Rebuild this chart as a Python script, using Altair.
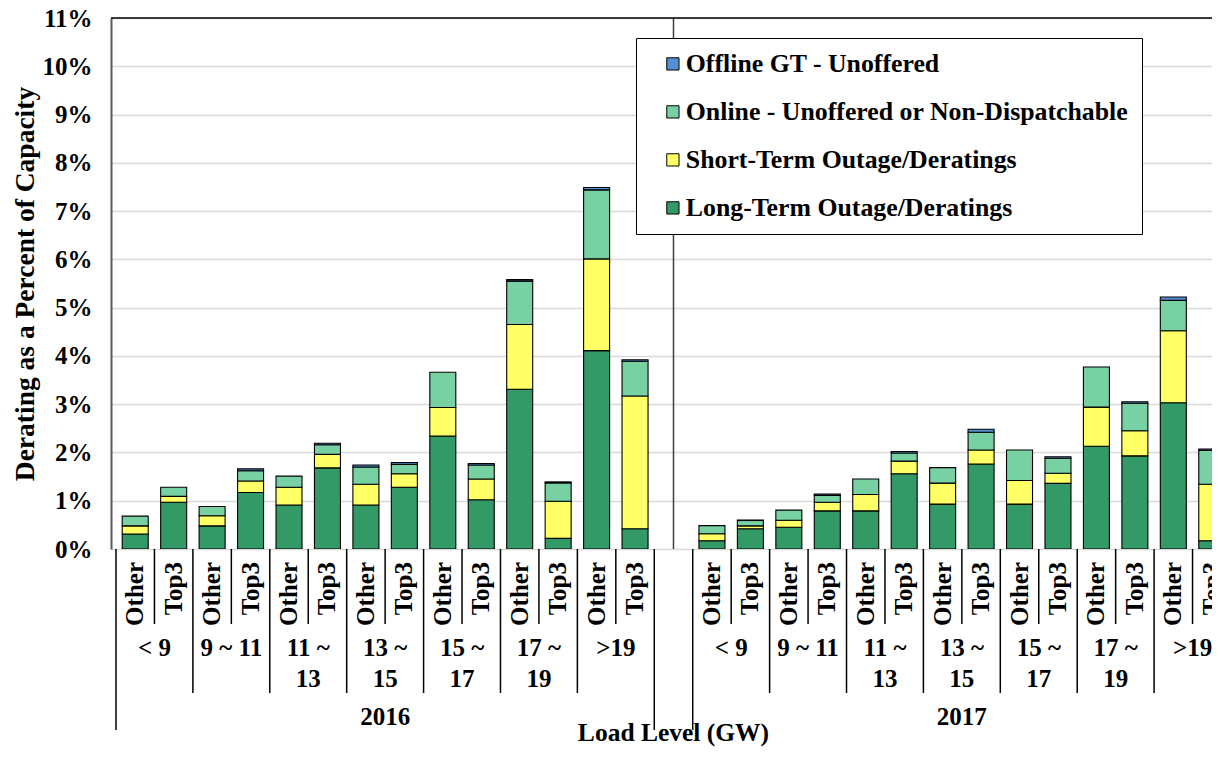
import altair as alt
import pandas as pd

# ---------------- data ----------------
years = ["2016", "2017"]
bins = ["< 9", "9 ~ 11", "11 ~\n13", "13 ~\n15", "15 ~\n17", "17 ~\n19", ">19"]
subs = ["Other", "Top3"]
x_title = "Load Level (GW)"
y_title = "Derating as a Percent of Capacity"

series_stack = [
    "Long-Term Outage/Deratings",
    "Short-Term Outage/Deratings",
    "Online - Unoffered or Non-Dispatchable",
    "Offline GT - Unoffered",
]
legend_order = [
    "Offline GT - Unoffered",
    "Online - Unoffered or Non-Dispatchable",
    "Short-Term Outage/Deratings",
    "Long-Term Outage/Deratings",
]
legend_colors = ["#558ED5", "#77D1A3", "#FFFF66", "#339966"]

# values in percent, order: <9 Other, <9 Top3, 9~11 Other, 9~11 Top3, ...
long_term_2016 = [0.31, 0.97, 0.48, 1.17, 0.91, 1.68, 0.91, 1.28, 2.34, 1.02, 3.31, 0.22, 4.11, 0.42]
short_term_2016 = [0.17, 0.12, 0.21, 0.24, 0.37, 0.28, 0.43, 0.28, 0.59, 0.43, 1.34, 0.77, 1.90, 2.75]
online_2016 = [0.20, 0.19, 0.19, 0.21, 0.23, 0.20, 0.36, 0.19, 0.73, 0.29, 0.90, 0.38, 1.43, 0.72]
offline_gt_2016 = [0.0, 0.0, 0.0, 0.04, 0.0, 0.03, 0.04, 0.04, 0.0, 0.03, 0.03, 0.02, 0.05, 0.03]

long_term_2017 = [0.17, 0.42, 0.45, 0.79, 0.79, 1.56, 0.93, 1.76, 0.93, 1.36, 2.13, 1.93, 3.03, 0.17]
short_term_2017 = [0.145, 0.06, 0.145, 0.18, 0.34, 0.26, 0.435, 0.29, 0.49, 0.21, 0.81, 0.52, 1.49, 1.17]
online_2017 = [0.17, 0.11, 0.21, 0.14, 0.32, 0.17, 0.32, 0.37, 0.63, 0.31, 0.83, 0.57, 0.63, 0.70]
offline_gt_2017 = [0.0, 0.01, 0.0, 0.03, 0.0, 0.03, 0.0, 0.06, 0.0, 0.03, 0.0, 0.03, 0.07, 0.03]

values = {
    "2016": [long_term_2016, short_term_2016, online_2016, offline_gt_2016],
    "2017": [long_term_2017, short_term_2017, online_2017, offline_gt_2017],
}

# ---------------- tables ----------------
slots_per_year = len(bins) * len(subs)
bar_rows, cat_rows, bin_rows, year_rows = [], [], [], []
inner_seps, bin_seps, year_seps = [], [], []
for yi, yr in enumerate(years):
    start = yi * (slots_per_year + 1)
    year_rows.append({"label": yr, "pos": start + (slots_per_year - 1) / 2})
    year_seps += [start - 0.5, start + slots_per_year - 0.5]
    for bi, b in enumerate(bins):
        first = start + bi * len(subs)
        bin_rows.append({"label": b, "pos": first + 0.5})
        inner_seps.append(first + 0.5)
        if bi > 0:
            bin_seps.append(first - 0.5)
        for si, s in enumerate(subs):
            idx = first + si
            k = bi * len(subs) + si
            cat_rows.append({"label": s, "pos": idx})
            for oi, name in enumerate(series_stack):
                bar_rows.append({"pos": idx, "series": name, "ord": oi,
                                 "value": values[yr][oi][k]})

bars_df = pd.DataFrame(bar_rows)
cats_df = pd.DataFrame(cat_rows)
bins_df = pd.DataFrame(bin_rows)
years_df = pd.DataFrame(year_rows)
inner_df = pd.DataFrame({"pos": inner_seps})
binsep_df = pd.DataFrame({"pos": bin_seps})
yearsep_df = pd.DataFrame({"pos": year_seps})
gap_df = pd.DataFrame({"pos": [slots_per_year], "label": [x_title]})

# ---------------- layout ----------------
W, H = 1101, 531
FONT = "Liberation Serif"
xscale = alt.Scale(domain=[-0.5, 27.876], nice=False, zero=False)
yscale = alt.Scale(domain=[0, 11], nice=False)

bars = alt.Chart(bars_df).transform_filter("datum.value > 0").mark_bar(
    size=26, stroke="black", strokeWidth=1.1, clip=True
).encode(
    x=alt.X("pos:Q", scale=xscale, axis=alt.Axis(
        labels=False, ticks=False, grid=False, domain=True, domainColor="black",
        domainWidth=1.5, title=None)),
    y=alt.Y("value:Q", stack="zero", scale=yscale, axis=alt.Axis(
        values=list(range(12)), labelExpr="datum.value + '%'", grid=True,
        gridColor="#D9D9D9", gridWidth=1.5, ticks=False, domainColor="#595959",
        domainWidth=2, labelPadding=19, labelFont=FONT, labelFontWeight="bold",
        labelFontSize=25, labelColor="black", labelFlush=False, labelOverlap=False,
        title=y_title, titleFont=FONT, titleFontSize=27.5,
        titleFontWeight="bold", titleColor="black", titleAngle=270, titleX=-86,
        titleY=H / 2, titleAlign="center", titleBaseline="middle")),
    color=alt.Color("series:N", scale=alt.Scale(domain=legend_order, range=legend_colors),
                    legend=alt.Legend(
                        title=None, orient="none", legendX=525, legendY=20,
                        fillColor="white", strokeColor="black", padding=13,
                        rowPadding=21, labelFont=FONT, labelFontSize=25.8,
                        labelFontWeight="bold", labelColor="black", labelLimit=700,
                        symbolType="square", symbolSize=150, symbolStrokeColor="black",
                        symbolStrokeWidth=1, labelOffset=0, symbolOffset=11)),
    order=alt.Order("ord:Q", sort="ascending"),
)

gap_line = alt.Chart(gap_df).mark_rule(color="#404040", strokeWidth=1.5).encode(
    x=alt.X("pos:Q", scale=xscale, axis=None), y=alt.value(0), y2=alt.value(H))

top_line = alt.Chart(gap_df).mark_rule(color="black", strokeWidth=1.5).encode(
    x=alt.value(0), x2=alt.value(W), y=alt.value(0))

cat_text = alt.Chart(cats_df).mark_text(
    angle=270, align="right", baseline="middle", font=FONT, fontSize=25,
    fontWeight="bold", color="black").encode(
    x=alt.X("pos:Q", scale=xscale, axis=None), y=alt.value(H + 13), text="label:N")

bin_text = alt.Chart(bins_df).mark_text(
    align="center", baseline="top", lineBreak="\n", lineHeight=31, font=FONT,
    fontSize=25, fontWeight="bold", color="black").encode(
    x=alt.X("pos:Q", scale=xscale, axis=None), y=alt.value(H + 87), text="label:N")

year_text = alt.Chart(years_df).mark_text(
    align="center", baseline="middle", font=FONT, fontSize=25, fontWeight="bold",
    color="black").encode(
    x=alt.X("pos:Q", scale=xscale, axis=None), y=alt.value(H + 168), text="label:N")

title_text = alt.Chart(gap_df).mark_text(
    align="center", baseline="alphabetic", font=FONT, fontSize=25.5, fontWeight="bold",
    color="black").encode(
    x=alt.X("pos:Q", scale=xscale, axis=None), y=alt.value(H + 192), text="label:N")

inner_rules = alt.Chart(inner_df).mark_rule(color="black", strokeWidth=1.5).encode(
    x=alt.X("pos:Q", scale=xscale, axis=None), y=alt.value(H), y2=alt.value(H + 75))
bin_rules = alt.Chart(binsep_df).mark_rule(color="black", strokeWidth=1.5).encode(
    x=alt.X("pos:Q", scale=xscale, axis=None), y=alt.value(H), y2=alt.value(H + 144))
year_rules = alt.Chart(yearsep_df).mark_rule(color="black", strokeWidth=1.5).encode(
    x=alt.X("pos:Q", scale=xscale, axis=None), y=alt.value(H), y2=alt.value(H + 181))

chart = alt.layer(
    bars, gap_line, top_line, cat_text, bin_text, year_text, title_text,
    inner_rules, bin_rules, year_rules,
).properties(
    width=W, height=H,
    autosize=alt.AutoSizeParams(type="none"),
    padding={"left": 103, "top": 10, "right": 0, "bottom": 199},
    background="white",
).configure_view(stroke=None)

chart.save("out.html", embed_options={"renderer": "svg", "actions": False})
